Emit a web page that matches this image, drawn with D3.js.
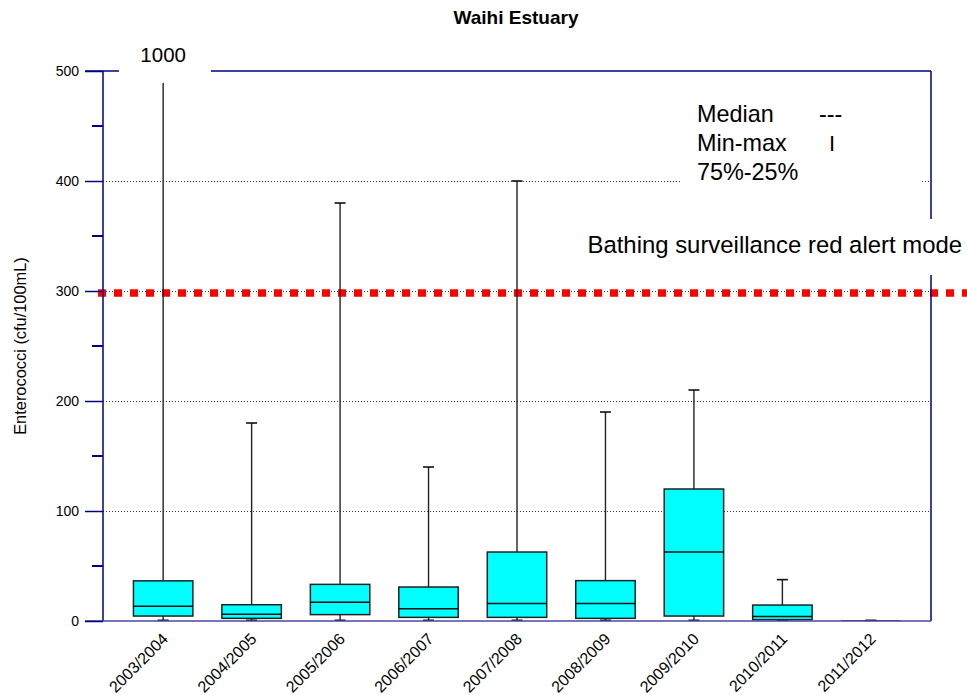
<!DOCTYPE html>
<html>
<head>
<meta charset="utf-8">
<script src="https://cdn.jsdelivr.net/npm/d3@7"></script>
<style>
  html, body { margin: 0; padding: 0; background: #fff; }
  svg { display: block; }
  text { font-family: "Liberation Sans", Arial, sans-serif; fill: #000; }
</style>
</head>
<body>
<svg id="chart" width="967" height="695"></svg>
<script>
// Enterococci per bathing season (cfu/100mL)
const seasons = ["2003/2004", "2004/2005", "2005/2006", "2006/2007", "2007/2008",
                 "2008/2009", "2009/2010", "2010/2011", "2011/2012"];
const minValues    = [0, 0, 0, 0, 0, 0, 0, 0, 0];
const q1Values     = [4.5, 2.4, 5.8, 3.3, 3.3, 2.4, 4.5, 1.2, 0];
const medianValues = [13.3, 6.1, 17, 11.2, 15.8, 15.8, 62.7, 4.2, 0];
const q3Values     = [36.5, 14.8, 33.3, 30.9, 62.7, 36.7, 120, 14.5, 0];
const maxValues    = [1000, 180, 380, 140, 400, 190, 210, 37.6, 0];

const yTicks = [0, 100, 200, 300, 400, 500];
const yMinorTicks = [50, 150, 250, 350, 450];
const alertLevel = 300;
const offScaleLabel = "1000";

const title = "Waihi Estuary";
const yTitle = "Enterococci (cfu/100mL)";
const alertText = "Bathing surveillance red alert mode";
const legendItems = [
  { label: "Median", symbol: "---", serif: false },
  { label: "Min-max", symbol: "I", serif: true },
  { label: "75%-25%", symbol: "", serif: false }
];

const rows = seasons.map((s, i) => ({
  season: s, min: minValues[i], q1: q1Values[i], median: medianValues[i],
  q3: q3Values[i], max: maxValues[i]
}));

const svg = d3.select("#chart");
const plot = { left: 103, right: 931, top: 71, bottom: 621 };
const navy = "#000080";

const x = d3.scalePoint().domain(seasons).range([plot.left, plot.right]).padding(0.68);
const y = d3.scaleLinear().domain([0, 500]).range([plot.bottom, plot.top]);
const boxW = x.step() * 0.672;

svg.append("defs").append("clipPath").attr("id", "plotClip")
  .append("rect")
  .attr("x", plot.left).attr("y", plot.top)
  .attr("width", plot.right - plot.left).attr("height", plot.bottom - plot.top);

// dotted horizontal grid
svg.append("g").selectAll("line").data(yTicks.filter(d => d > 0 && d < 500)).join("line")
  .attr("x1", plot.left).attr("x2", plot.right)
  .attr("y1", d => y(d) + 0.5).attr("y2", d => y(d) + 0.5)
  .attr("stroke", "#2a2ac0").attr("stroke-width", 1)
  .attr("stroke-dasharray", "1,2");

// red alert threshold
svg.append("line")
  .attr("x1", 98).attr("x2", 967)
  .attr("y1", y(alertLevel) + 2).attr("y2", y(alertLevel) + 2)
  .attr("stroke", "#ff0000").attr("stroke-width", 7.5)
  .attr("stroke-dasharray", "8,8");

// boxes
const boxes = svg.append("g").attr("clip-path", "url(#plotClip)");
const g = boxes.selectAll("g").data(rows).join("g");

g.append("line") // whisker
  .attr("x1", d => x(d.season)).attr("x2", d => x(d.season))
  .attr("y1", d => y(d.max)).attr("y2", d => y(d.min))
  .attr("stroke", "#222").attr("stroke-width", 1.4);

g.filter(d => d.max > 0).append("line") // upper cap
  .attr("x1", d => x(d.season) - 5.5).attr("x2", d => x(d.season) + 5.5)
  .attr("y1", d => y(d.max)).attr("y2", d => y(d.max))
  .attr("stroke", "#111").attr("stroke-width", 1.6);

g.append("line") // lower cap
  .attr("x1", d => x(d.season) - 5.5).attr("x2", d => x(d.season) + 5.5)
  .attr("y1", d => y(d.min) - 0.5).attr("y2", d => y(d.min) - 0.5)
  .attr("stroke", "#111").attr("stroke-width", 2);

g.append("rect")
  .attr("x", d => x(d.season) - boxW / 2)
  .attr("width", boxW)
  .attr("y", d => y(d.q3))
  .attr("height", d => Math.max(0, y(d.q1) - y(d.q3)))
  .attr("fill", "#00ffff")
  .attr("stroke", "#222").attr("stroke-width", 1.5);

g.append("line") // median
  .attr("x1", d => x(d.season) - boxW / 2).attr("x2", d => x(d.season) + boxW / 2)
  .attr("y1", d => y(d.median)).attr("y2", d => y(d.median))
  .attr("stroke", "#111").attr("stroke-width", 1.5);

// frame and axis
const frame = svg.append("g");
frame.append("line").attr("x1", plot.left).attr("x2", plot.left)
  .attr("y1", plot.top).attr("y2", plot.bottom)
  .attr("stroke", navy).attr("stroke-width", 1.5);
frame.append("line").attr("x1", plot.right).attr("x2", plot.right)
  .attr("y1", plot.top).attr("y2", plot.bottom)
  .attr("stroke", navy).attr("stroke-width", 1.5);
frame.append("line").attr("x1", 85).attr("x2", plot.right)
  .attr("y1", plot.top).attr("y2", plot.top)
  .attr("stroke", navy).attr("stroke-width", 1.5);
frame.append("line").attr("x1", 85).attr("x2", plot.right)
  .attr("y1", plot.bottom).attr("y2", plot.bottom)
  .attr("stroke", "#4848a0").attr("stroke-width", 1.5);

// y axis ticks and labels
const yAxis = d3.axisLeft(y).tickValues(yTicks).tickSize(18).tickPadding(6)
  .tickFormat(d3.format("d"));
const ya = svg.append("g").attr("transform", `translate(${plot.left},0)`).call(yAxis);
ya.select(".domain").remove();
ya.selectAll(".tick line").attr("stroke", navy).attr("stroke-width", 1.5);
ya.selectAll(".tick text").attr("font-size", 14)
  .attr("font-family", "'Liberation Sans', Arial, sans-serif").attr("fill", "#000");

svg.append("g").selectAll("line").data(yMinorTicks).join("line")
  .attr("x1", plot.left - 11).attr("x2", plot.left)
  .attr("y1", d => y(d)).attr("y2", d => y(d))
  .attr("stroke", navy).attr("stroke-width", 2);

// x axis labels
svg.append("g").selectAll("text").data(seasons).join("text")
  .attr("transform", d => `translate(${x(d) + 6},${plot.bottom + 19}) rotate(-45)`)
  .attr("text-anchor", "end")
  .attr("font-size", 16)
  .text(d => d);

// y title
svg.append("text")
  .attr("transform", `translate(26,346) rotate(-90)`)
  .attr("text-anchor", "middle")
  .attr("font-size", 16.4)
  .text(yTitle);

// title
svg.append("text")
  .attr("x", 516).attr("y", 24)
  .attr("text-anchor", "middle")
  .attr("font-size", 19).attr("font-weight", "bold")
  .text(title);

// off-scale maximum label
svg.append("rect").attr("x", 119).attr("y", 38).attr("width", 92).attr("height", 45).attr("fill", "#fff");
svg.append("text")
  .attr("x", x(seasons[0])).attr("y", 62)
  .attr("text-anchor", "middle")
  .attr("font-size", 20.5)
  .text(offScaleLabel);

// legend
svg.append("rect").attr("x", 680).attr("y", 92).attr("width", 241).attr("height", 98).attr("fill", "#fff");
const lg = svg.append("g").selectAll("g").data(legendItems).join("g")
  .attr("transform", (d, i) => `translate(697,${122 + i * 29})`);
lg.append("text").attr("font-size", 23.4).text(d => d.label);
lg.append("text").attr("x", d => d.serif ? 132 : 122)
  .attr("font-size", d => d.serif ? 22 : 23.4)
  .attr("font-family", d => d.serif ? "'Liberation Serif', 'Times New Roman', serif" : null)
  .text(d => d.symbol);

// alert label
svg.append("rect").attr("x", 580).attr("y", 219).attr("width", 387).attr("height", 56).attr("fill", "#fff");
svg.append("text")
  .attr("x", 962).attr("y", 253)
  .attr("text-anchor", "end")
  .attr("font-size", 23.9)
  .text(alertText);
</script>
</body>
</html>
